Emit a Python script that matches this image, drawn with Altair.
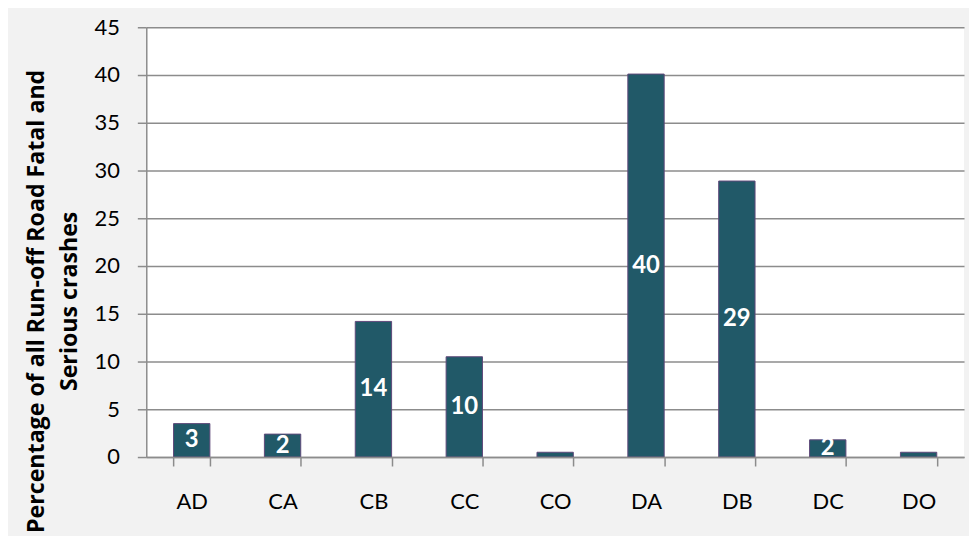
import altair as alt
import pandas as pd

categories = ["AD", "CA", "CB", "CC", "CO", "DA", "DB", "DC", "DO"]
values = [3.5, 2.4, 14.2, 10.5, 0.5, 40.1, 28.9, 1.8, 0.5]
labels = ["3", "2", "14", "10", "", "40", "29", "2", ""]
y_ticks = [0, 5, 10, 15, 20, 25, 30, 35, 40, 45]

df = pd.DataFrame({"cat": categories, "value": values, "label": labels})

GRAY = "#8c8c8c"
FONT = "Lato"

x_enc = alt.X(
    "cat:N",
    sort=categories,
    scale=alt.Scale(paddingInner=0.6, paddingOuter=0.3),
    axis=alt.Axis(
        title=None,
        labelAngle=0,
        labelFont=FONT,
        labelFontSize=22,
        labelColor="black",
        labelPadding=26,
        tickBand="extent",
        tickSize=9,
        tickColor=GRAY,
        tickWidth=1.5,
        domainColor=GRAY,
        domainWidth=1.5,
        grid=False,
        zindex=1,
    ),
)

bars = alt.Chart(df).mark_bar(
    color="#215968", stroke="#5F497A", strokeWidth=1
).encode(
    x=x_enc,
    y=alt.Y(
        "value:Q",
        scale=alt.Scale(domain=[0, 45], nice=False),
        axis=alt.Axis(
            values=y_ticks,
            title=["Percentage of all Run-off Road  Fatal and", "Serious  crashes"],
            titleFont="Open Sans",
            titleFontSize=23.3,
            titleFontWeight="bold",
            titleColor="black",
            titleAngle=270,
            titleAlign="center",
            titleBaseline="alphabetic",
            titleLineHeight=33,
            titleX=-103,
            titleY=275,
            labelFont=FONT,
            labelFontSize=22,
            labelColor="black",
            labelPadding=18,
            tickSize=9,
            tickColor=GRAY,
            tickWidth=1.5,
            domainColor=GRAY,
            domainWidth=1.5,
            grid=True,
            gridColor=GRAY,
            gridWidth=1.5,
        ),
    ),
)

text = alt.Chart(df).transform_calculate(
    mid="datum.value / 2"
).mark_text(
    color="white", font=FONT, fontWeight="bold", fontSize=24, baseline="middle", align="center"
).encode(
    x=alt.X("cat:N", sort=categories),
    y=alt.Y("mid:Q"),
    text="label:N",
)

chart = alt.layer(bars, text).properties(
    width=822,
    height=432,
    background="#F2F2F2",
    padding={"left": 139, "top": 18, "right": 5, "bottom": 78},
    autosize=alt.AutoSizeParams(type="none"),
).configure_view(
    stroke=None, fill="white"
)

chart.save("out.html", embed_options={"renderer": "svg", "actions": False})
